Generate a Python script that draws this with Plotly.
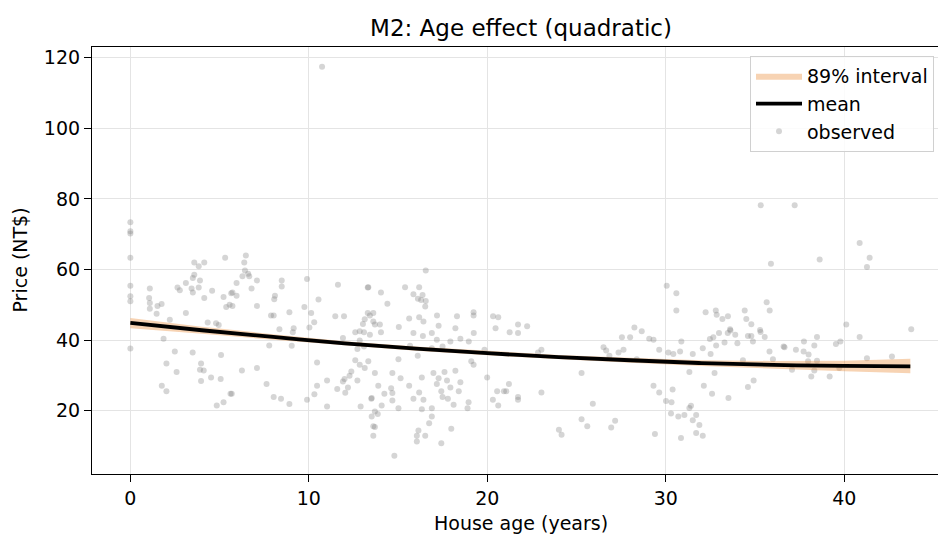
import plotly.graph_objects as go

# observed points (house age in years, price NT$)
age_obs = [
    0, 0, 0, 0, 0, 0, 0, 1.09, 1.05, 1.09, 1.09, 1.52, 1.75, 1.47, 2.21, 3.11, 3.58, 3.83, 4.14, 3.58,
    3.5, 3.9, 3.11, 2.64, 2.77, 3.43, 3.5, 3.83, 4.58, 4.14, 5.31, 5.22, 5.56, 5.37, 5.65, 4.33, 4.8, 4.95,
    0, 1.86, 2.49, 3.49, 5.08, 2.02, 2.59, 3.96, 3.9, 4.11, 3.96, 4.52, 5.06, 1.76, 2.02, 5.61, 4.84, 5.22,
    6.47, 6.38, 6.42, 6.6, 6.28, 6.66, 7.09, 5.95, 6.79, 8.48, 8.48, 9.9, 5.72, 5.95, 8.1, 8.06, 10.54, 11.63,
    13.3, 5.72, 7.09, 9.75, 7.88, 8.03, 8.91, 10.13, 11.48, 11.97, 10.3, 8.35, 9.15, 10.03, 13.13, 13.3,
    9.1, 7.78, 9.04, 6.25, 7.09, 10.46, 7.63, 5.68, 8.03, 8.44, 8.91, 9.9, 10.31, 10.46, 11.02, 11.02, 11.59,
    11.91, 12.0, 12.28, 12.38, 12.19, 12.04, 12.72, 12.6, 12.85, 13.13, 12.9, 12.6, 12.85, 13.09, 12.85,
    13.09, 12.72, 11.91, 13.03, 13.5,
    16.55, 13.33, 14.04, 15.39, 16.18, 15.86, 16.37, 16.11, 16.29, 16.55, 16.52, 14.4, 13.61, 13.42, 13.7,
    13.98, 15.62, 16.18, 16.42, 17.18, 18.3, 19.23, 19.23, 20.32, 20.61, 15.04, 17.27, 18.21,
    15.86, 16.39, 16.89, 17.17, 17.93, 18.49, 18.96, 19.24, 14.04, 13.42, 13.61, 15.67, 16.1, 15.02, 16.89,
    17.49, 19.84, 19.1, 19.23, 13.33, 13.7, 14.68, 15.14, 16.33, 16.98, 17.6, 18.21, 17.27, 17.74, 18.49,
    19.99, 13.89, 14.61, 15.62, 17.17, 17.93, 14.23, 14.68, 14.68, 15.86, 16.18, 16.42, 17.42, 17.49, 17.79,
    18.4, 18.11, 18.95, 18.89, 13.52, 14.08, 15.02, 16.33, 16.89, 13.7, 13.52, 13.86, 16.89, 16.74, 13.61,
    13.7, 13.61, 16.14, 16.05, 16.52, 16.05, 17.98, 17.42, 14.79, 20.31, 20.55, 20.93, 20.61, 20.46,
    21.72, 22.23, 28.24, 21.25, 21.72, 22.84, 23.03, 25.28, 21.21, 21.06, 21.72, 21.72, 23.03, 25.91, 25.28,
    25.6, 24.01, 24.16, 26.94, 27.16, 26.51, 26.66, 26.84, 27.35, 27.63, 27.54, 28.0, 28.65, 28.37,
    35.32, 35.89, 30.05, 30.59, 30.59, 32.23, 32.8, 32.85, 33.17, 33.48, 34.42, 34.51, 34.79, 35.65, 35.82,
    33.6, 35.28,
    29.07, 29.31, 30.87, 32.47, 32.66, 32.98, 33.47, 33.62, 33.89, 33.29, 34.01, 32.82, 34.6, 34.79, 34.88,
    35.31, 35.54, 29.63, 30.14, 30.42, 30.8, 31.51, 32.07, 32.51, 35.81, 36.0, 34.32, 31.32, 32.73, 29.31,
    29.63, 30.38, 32.13, 32.59, 33.51, 34.6, 34.92, 30.01, 30.32, 31.32, 31.41, 30.29, 30.7, 31.04, 31.7,
    31.51, 31.88, 31.7, 32.07, 29.39, 30.85,
    37.22, 40.86, 38.62, 41.42, 41.27, 40.11, 43.75, 40.86, 36.6, 36.65, 37.29, 37.72, 37.74, 38.32, 38.47,
    38.0, 37.97, 38.47, 39.53, 39.78, 37.07, 38.32, 38.15, 39.18, 39.72, 41.27, 42.67,
    10.74,
]
price_obs = [
    73.4, 70.8, 70.2, 63.3, 55.4, 52.4, 51.0, 54.6, 51.9, 50.5, 48.9, 49.7, 50.2, 47.5, 45.8, 47.7, 62.0, 60.9,
    62.0, 58.5, 57.6, 56.9, 56.2, 54.9, 54.1, 54.6, 53.5, 54.9, 54.0, 51.9, 63.3, 52.2, 50.0, 49.4, 53.3, 45.0,
    44.8, 44.3,
    37.6, 40.4, 36.8, 36.5, 35.8, 33.4, 31.0, 33.4, 31.6, 31.4, 28.4, 29.4, 29.0, 27.1, 25.5, 24.8, 21.5, 22.4,
    64.0, 62.0, 59.7, 58.8, 58.1, 58.1, 56.9, 56.2, 54.6, 56.9, 55.2, 57.3, 53.5, 52.6, 52.6, 51.6, 51.5, 55.7,
    54.9, 49.7, 49.7, 49.4, 47.0, 47.0, 47.9, 47.7, 46.8, 46.8, 45.1, 43.1, 43.4, 43.6, 45.9, 47.7,
    42.2, 38.5, 38.4, 31.4, 32.1, 33.7, 27.6, 24.8, 23.9, 23.4, 21.9, 23.1, 24.7, 27.1, 28.6, 21.2, 26.2,
    28.3, 29.0, 29.9, 31.1, 26.6, 25.1, 28.6, 34.3, 33.0, 32.1, 21.2, 42.2, 42.5, 42.2, 39.9,
    38.2, 37.5, 40.6, 44.6, 23.4,
    59.7, 55.0, 53.5, 55.0, 55.0, 53.0, 52.8, 51.7, 51.4, 51.1, 49.5, 50.3, 47.7, 47.0, 44.4,
    44.4, 46.1, 46.5, 45.3, 47.0, 46.8, 47.9, 47.0, 46.8, 46.5, 43.7, 44.1, 43.4,
    42.0, 41.2, 42.0, 40.1, 39.6, 40.4, 39.6, 42.0, 42.2, 41.5, 45.3, 38.4, 35.6, 34.6, 37.7,
    38.2, 37.3, 34.0, 33.0, 34.0, 30.7, 30.7, 29.2, 29.4, 30.7, 31.0, 31.3, 29.2, 28.6, 28.1,
    29.4, 27.1, 26.4, 27.1, 27.6, 26.6, 24.8, 25.0, 22.9, 23.4, 25.2, 23.1, 25.5, 23.9, 23.4,
    25.5, 21.7, 22.4, 20.7, 23.6, 21.5, 20.7, 20.4, 20.7, 19.8, 18.4, 19.1, 18.4, 16.5, 15.6,
    15.4, 12.9, 14.4, 12.9, 12.9, 11.3, 14.9, 10.8, 7.3, 23.1, 25.5, 25.5, 21.5, 43.4,
    44.4, 43.9, 43.6, 42.2, 42.0, 36.5, 37.3, 30.7, 27.6, 25.5, 23.9, 23.1, 25.2, 22.0, 17.6,
    15.6, 14.6, 13.2, 15.3, 17.2, 38.0, 37.1, 35.6, 36.5, 37.3, 40.8, 40.8, 42.5, 34.6,
    78.2, 61.6, 55.4, 53.3, 48.4, 47.9, 48.4, 47.2, 46.0, 46.8, 48.4, 46.0, 44.5, 50.7, 48.4,
    43.1, 42.9,
    40.4, 40.1, 39.6, 40.3, 40.8, 42.0, 42.0, 42.7, 41.5, 39.3, 39.1, 38.5, 41.2, 41.2, 39.6,
    42.3, 40.9, 37.3, 36.5, 36.1, 36.8, 36.1, 37.7, 36.1, 36.8, 34.6, 34.3, 31.0, 30.7, 27.1,
    25.2, 26.0, 27.1, 24.8, 23.6, 26.7, 28.6, 22.8, 22.4, 20.8, 21.4, 19.2, 18.4, 18.8, 18.8,
    17.3, 16.0, 13.7, 12.9, 13.4, 12.3,
    78.2, 67.5, 62.8, 63.3, 60.7, 44.4, 43.1, 40.9, 38.2, 38.0, 37.3, 36.8, 39.6, 38.5, 40.9,
    35.9, 34.0, 34.2, 38.9, 39.6, 31.6, 31.4, 29.7, 29.7, 32.1, 34.9, 35.4,
    117.4,
]

# posterior mean curve and 89% interval, read at grid ages
age_grid = [0, 4, 8, 12, 16, 20, 24, 28, 32, 36, 40, 43.7]
mean_price = [44.9, 42.8, 40.9, 39.1, 37.6, 36.3, 35.2, 34.3, 33.5, 33.0, 32.7, 32.6]
lower_89 = [43.4, 41.8, 40.1, 38.5, 37.0, 35.7, 34.6, 33.6, 32.7, 31.9, 31.2, 30.6]
upper_89 = [46.3, 43.8, 41.7, 39.7, 38.2, 36.9, 35.8, 35.0, 34.3, 34.1, 34.2, 34.7]

x_ticks = [0, 10, 20, 30, 40]
y_ticks = [20, 40, 60, 80, 100, 120]

FONT = "DejaVu Sans"
W, H = 938, 535
ML, MR, MT, MB = 92, 0, 47, 61
PW = W - ML - MR
PH = H - MT - MB

fig = go.Figure()

fig.add_trace(go.Scatter(
    x=age_obs, y=price_obs,
    mode="markers",
    marker=dict(color="rgba(128,128,128,0.33)", size=6, line=dict(width=0)),
    name="observed",
    legendrank=3, legendgroup="c",
))

fig.add_trace(go.Scatter(
    x=age_grid + age_grid[::-1],
    y=upper_89 + lower_89[::-1],
    fill="toself",
    fillcolor="rgba(235,140,55,0.38)",
    line=dict(color="rgba(235,140,55,0.0)", width=0),
    mode="lines",
    name="89% interval",
    hoverinfo="skip",
    legendrank=1, legendgroup="a",
))

fig.add_trace(go.Scatter(
    x=age_grid, y=mean_price,
    mode="lines",
    line=dict(color="black", width=3.8, shape="spline"),
    name="mean",
    legendrank=2, legendgroup="b",
))

def px_x(p):
    return (p - ML) / PW

def px_y(p):
    return 1 - (p - MT) / PH

fig.update_layout(
    width=W, height=H,
    margin=dict(l=ML, r=MR, t=MT, b=MB),
    paper_bgcolor="white",
    plot_bgcolor="white",
    font=dict(family=FONT, size=19, color="black"),
    title=dict(text="M2: Age effect (quadratic)", x=521 / W, xanchor="center",
               y=1 - 28 / H, yanchor="middle", font=dict(size=23, family=FONT, color="black")),
    showlegend=True,
    legend=dict(
        x=px_x(750), y=px_y(56), xanchor="left", yanchor="top",
        bgcolor="rgba(255,255,255,0.85)", bordercolor="#d0d0d0", borderwidth=1,
        font=dict(size=19, family=FONT), tracegroupgap=0,
        itemwidth=46,
    ),
    annotations=[
        dict(text="House age (years)", xref="paper", yref="paper",
             x=px_x(521), y=px_y(523), xanchor="center", yanchor="middle",
             showarrow=False, font=dict(size=19, family=FONT, color="black")),
        dict(text="Price (NT$)", xref="paper", yref="paper",
             x=px_x(19), y=px_y(260.5), xanchor="center", yanchor="middle",
             textangle=-90, showarrow=False, font=dict(size=19, family=FONT, color="black")),
    ],
)

fig.update_xaxes(
    range=[-2.15, 45.25],
    tickvals=x_ticks, ticktext=[str(v) for v in x_ticks],
    showgrid=True, gridcolor="#e4e4e4", gridwidth=1.4,
    zeroline=False,
    showline=True, linecolor="black", linewidth=1.2, mirror=True,
    ticks="outside", ticklen=7, tickwidth=1.3, tickcolor="black",
    tickfont=dict(size=19, family=FONT),
)
fig.update_yaxes(
    range=[2.1, 123.0],
    tickvals=y_ticks, ticktext=[str(v) for v in y_ticks],
    showgrid=True, gridcolor="#e4e4e4", gridwidth=1.4,
    zeroline=False,
    showline=True, linecolor="black", linewidth=1.2, mirror=False,
    ticks="outside", ticklen=7, tickwidth=1.3, tickcolor="black",
    tickfont=dict(size=19, family=FONT),
)

fig.write_html("out.html")
